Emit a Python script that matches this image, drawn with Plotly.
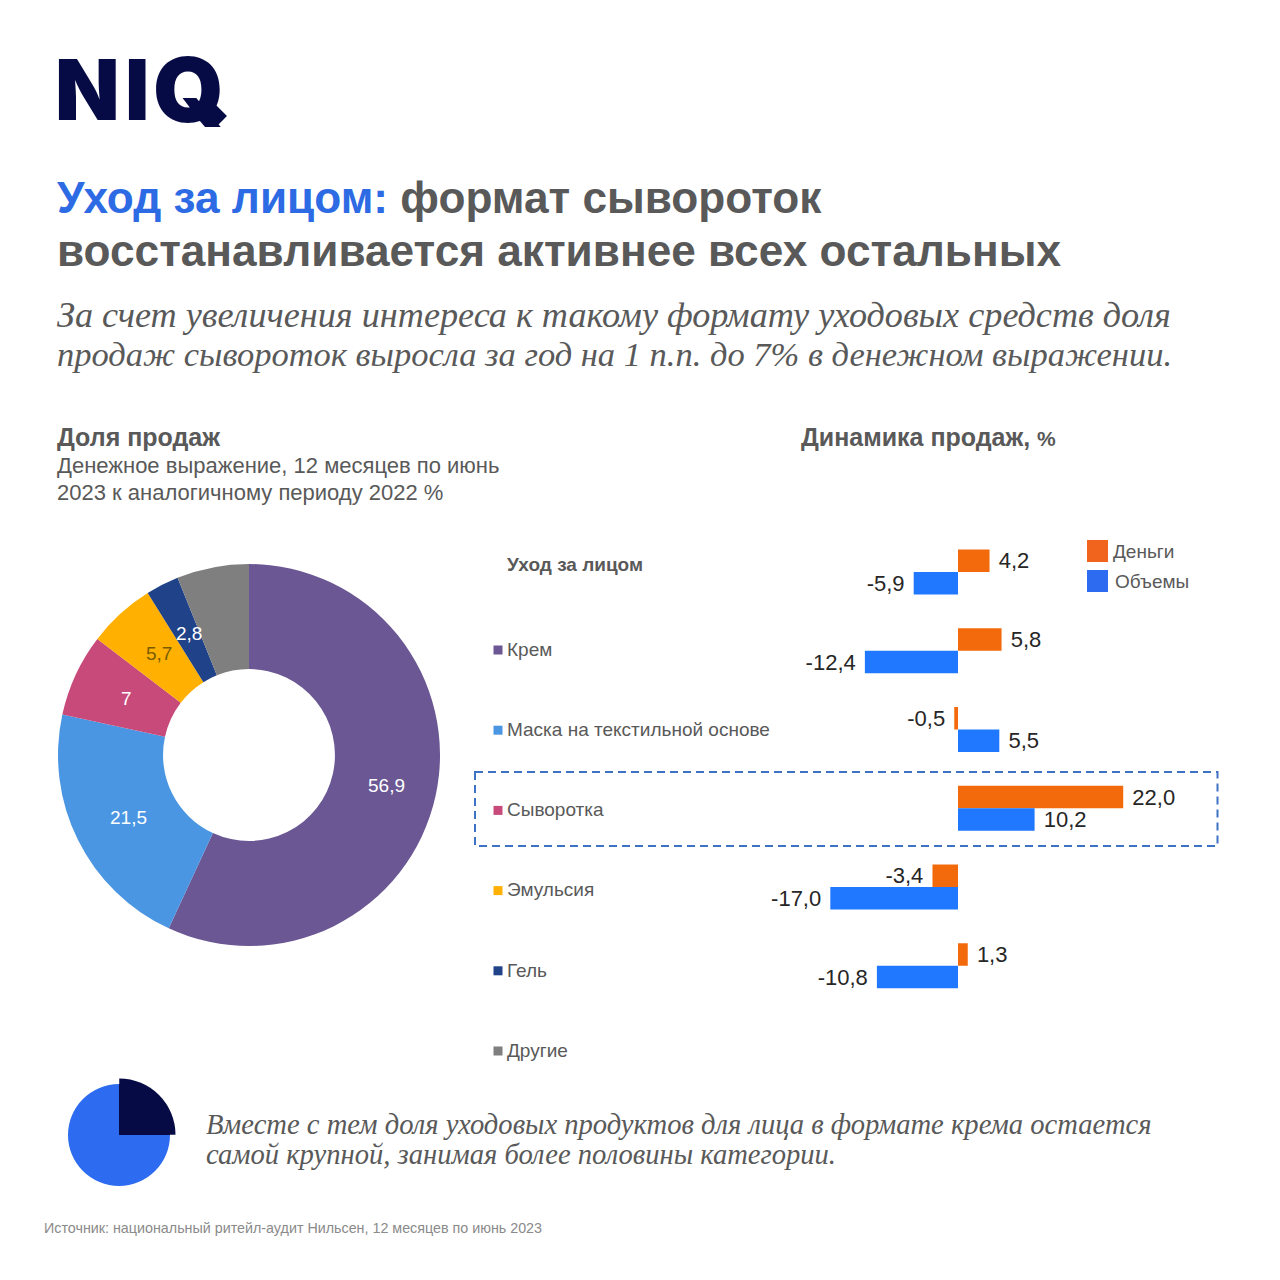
import math
import plotly.graph_objects as go

# --- data ---
share_labels = ["Крем", "Маска на текстильной основе", "Сыворотка", "Эмульсия", "Гель", "Другие"]
share_values = [56.9, 21.5, 7, 5.7, 2.8, 6.1]
share_text = ["56,9", "21,5", "7", "5,7", "2,8", ""]
share_colors = ["#6A5793", "#4A96E2", "#C84A7A", "#FFB000", "#1F4288", "#7F7F7F"]
share_text_colors = ["#FFFFFF", "#FFFFFF", "#FFFFFF", "#7A5C00", "#FFFFFF", "#FFFFFF"]

bar_categories = ["Уход за лицом"] + share_labels
money = [4.2, 5.8, -0.5, 22.0, -3.4, 1.3, None]
volume = [-5.9, -12.4, 5.5, 10.2, -17.0, -10.8, None]

small_values = [25, 75]

W = 1280
NAVY = "#070B45"
GREY = "#595959"
MONEY = "#F26A0B"
VOLUME = "#1F78FF"


def px(x):
    return x / W


def py(y):
    return 1 - y / W


def fmt(v):
    return "" if v is None else f"{v:.1f}".replace(".", ",")


def bar_text(values):
    out = []
    for v in values:
        if v is None:
            out.append("")
        elif v < 0:
            out.append(fmt(v) + "\u00a0")
        else:
            out.append("\u00a0" + fmt(v))
    return out


fig = go.Figure()

fig.add_trace(go.Pie(
    values=share_values, labels=share_labels, textinfo="none",
    sort=False, direction="clockwise", rotation=0, hole=0.45,
    marker=dict(colors=share_colors, line=dict(width=0)),
    domain=dict(x=[px(58), px(440)], y=[py(946), py(564)]),
    showlegend=False,
))

fig.add_trace(go.Pie(
    values=small_values, sort=False, direction="clockwise", textinfo="none",
    marker=dict(colors=[NAVY, "#2D6CF0"], line=dict(width=0)),
    domain=dict(x=[px(68), px(170)], y=[py(1186), py(1084)]), showlegend=False,
))
fig.add_trace(go.Pie(
    values=small_values, sort=False, direction="clockwise", textinfo="none",
    marker=dict(colors=[NAVY, "rgba(0,0,0,0)"], line=dict(width=0)),
    domain=dict(x=[px(63), px(175.5)], y=[py(1191), py(1078.5)]), showlegend=False,
))

label_font = dict(size=22, color="#262626", family="Liberation Sans")
fig.add_trace(go.Bar(
    y=bar_categories, x=money, orientation="h", name="Деньги",
    marker=dict(color=MONEY, line=dict(width=0)),
    text=bar_text(money), textposition="outside", textfont=label_font,
    constraintext="none", cliponaxis=False, showlegend=False,
))
fig.add_trace(go.Bar(
    y=bar_categories, x=volume, orientation="h", name="Объемы",
    marker=dict(color=VOLUME, line=dict(width=0)),
    text=bar_text(volume), textposition="outside", textfont=label_font,
    constraintext="none", cliponaxis=False, showlegend=False,
))

fig.add_trace(go.Scatter(
    x=[0] * len(share_labels), y=share_labels, mode="markers",
    marker=dict(symbol="square", size=9, color=share_colors),
    xaxis="x2", yaxis="y2", showlegend=False, cliponaxis=False,
))
fig.add_trace(go.Scatter(
    x=[9] * len(share_labels), y=share_labels, mode="text",
    text=share_labels, textposition="middle right",
    textfont=dict(size=19, color=GREY, family="Liberation Sans"),
    xaxis="x2", yaxis="y3", showlegend=False, cliponaxis=False,
))


def txt(x, y, text, size, color=GREY, family="Liberation Sans", bold=False, italic=False, weight=None, anchor="left"):
    return dict(
        xref="paper", yref="paper", x=px(x), y=py(y), text=text, showarrow=False,
        xanchor=anchor, yanchor="middle", align="left", borderpad=0, borderwidth=0,
        font=dict(size=size, color=color, family=family,
                  weight=weight or (700 if bold else 400), style="italic" if italic else "normal"),
    )


SERIF = "Liberation Serif"
annotations = [
    txt(55, 89, "N", 84, NAVY, "Inter", weight=900),
    txt(125, 89, "I", 84, NAVY, "Inter", weight=900),
    txt(153, 89, "Q", 90, NAVY, "Inter", weight=900),
    txt(57, 198, '<span style="color:#2D6BE4">Уход за лицом:</span> формат сывороток', 44.2, GREY, bold=True),
    txt(57, 251, "восстанавливается активнее всех остальных", 44.2, GREY, bold=True),
    txt(57, 315, "За счет увеличения интереса к такому формату уходовых средств доля", 36.2, GREY, SERIF, italic=True),
    txt(57, 354, "продаж сывороток выросла за год на 1 п.п. до 7% в денежном выражении.", 34.5, GREY, SERIF, italic=True),
    txt(57, 437, "Доля продаж", 25, GREY, bold=True),
    txt(57, 466, "Денежное выражение, 12 месяцев по июнь", 22, GREY),
    txt(57, 492, "2023 к аналогичному периоду 2022 %", 22, GREY),
    txt(801, 437, 'Динамика продаж, <span style="font-size:21px">%</span>', 25, GREY, bold=True),
    txt(507, 564, bar_categories[0], 19, GREY, bold=True),
    txt(1113, 551, "Деньги", 19, GREY),
    txt(1115, 581, "Объемы", 19, GREY),
    txt(206, 1124, "Вместе с тем доля уходовых продуктов для лица в формате крема остается", 28.6, GREY, SERIF, italic=True),
    txt(206, 1154, "самой крупной, занимая более половины категории.", 28.6, GREY, SERIF, italic=True),
    txt(44, 1228, "Источник: национальный ритейл-аудит Нильсен, 12 месяцев по июнь 2023", 14.3, "#8A8A8A"),
]

# share labels sit at the middle of each ring segment
pie_cx, pie_cy, pie_label_r = 252, 756, 138
running = 0
total = sum(share_values)
for value, label, colour in zip(share_values, share_text, share_text_colors):
    theta = 2 * math.pi * (running + value / 2) / total
    running += value
    if label:
        annotations.append(txt(pie_cx + pie_label_r * math.sin(theta), pie_cy - pie_label_r * math.cos(theta),
                               label, 19, colour, anchor="center"))


def rect(x0, y0, x1, y1, **kw):
    return dict(type="rect", xref="paper", yref="paper", x0=px(x0), x1=px(x1), y0=py(y0), y1=py(y1), **kw)


shapes = [
    rect(475, 772, 1217.5, 846, line=dict(color="#3E72C4", width=2, dash="8px,5px")),
    rect(1087, 540, 1108, 562, fillcolor="#F0641E", line=dict(width=0)),
    rect(1087, 570, 1108, 592, fillcolor="#2D6CF0", line=dict(width=0)),
    dict(type="line", xref="paper", yref="paper", x0=px(205), y0=py(104), x1=px(222), y1=py(121),
         line=dict(color=NAVY, width=14)),
]

bar_zero, bar_scale = 958, 7.51
bar_left, bar_right = 770, 1220
row0, row_step = 572, 78.75
n_rows = len(bar_categories)
lab0, lab_step = 650, 80.2
n_labs = len(share_labels)


def lab_axis(offset):
    return dict(domain=[py(lab0 + offset + (n_labs - 0.5) * lab_step), py(lab0 + offset - 0.5 * lab_step)],
                range=[n_labs - 0.5, -0.5], type="category", visible=False, fixedrange=True,
                categoryorder="array", categoryarray=share_labels)


fig.update_layout(
    width=W, height=W, margin=dict(l=0, r=0, t=0, b=0, pad=0, autoexpand=False),
    paper_bgcolor="white", plot_bgcolor="rgba(0,0,0,0)", barmode="group",
    bargap=1 - 45 / row_step, bargroupgap=0,
    annotations=annotations, shapes=shapes,
    xaxis=dict(domain=[px(bar_left), px(bar_right)],
               range=[(bar_left - bar_zero) / bar_scale, (bar_right - bar_zero) / bar_scale],
               visible=False, fixedrange=True),
    yaxis=dict(domain=[py(row0 + (n_rows - 0.5) * row_step), py(row0 - 0.5 * row_step)],
               range=[n_rows - 0.5, -0.5], type="category", visible=False, fixedrange=True,
               categoryorder="array", categoryarray=bar_categories),
    xaxis2=dict(domain=[px(480), px(780)], range=[-18, 282], visible=False, fixedrange=True),
    yaxis2=lab_axis(0),
    yaxis3=lab_axis(1),
)

fig.write_html("out.html", config=dict(displayModeBar=False),
               post_script="document.body.style.margin='0';")
